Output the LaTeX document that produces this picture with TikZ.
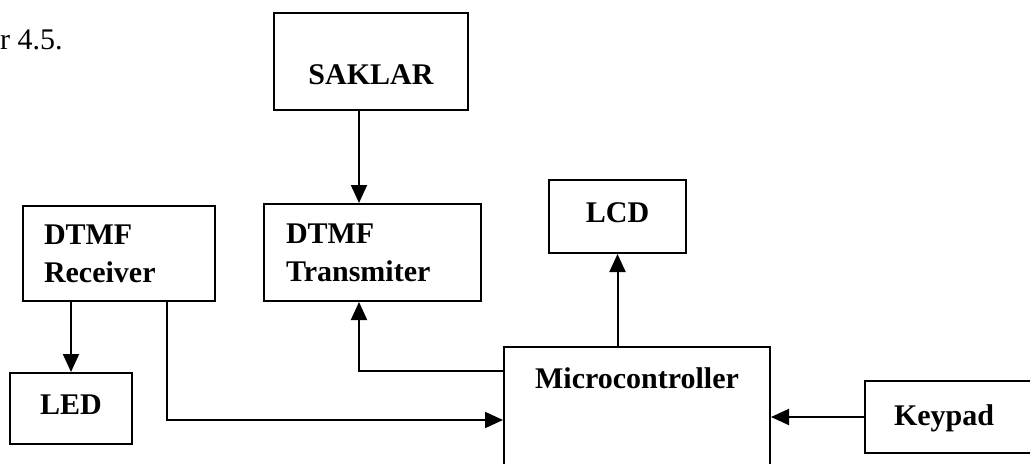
\documentclass[tikz,border=0pt]{standalone}
\usepackage{fontspec}
\setmainfont{Liberation Serif}
\usetikzlibrary{arrows.meta,calc}
\begin{document}
\begin{tikzpicture}[x=1pt,y=-1pt,
  box/.style={draw, line width=2pt, inner ysep=0pt, anchor=north west,
    font=\fontsize{30}{38}\selectfont\bfseries},
  arr/.style={line width=2pt, -{Triangle[length=18pt,width=16pt]}}]
\clip (0,0) rectangle (1030,463);
\node[anchor=base west, inner sep=0pt, font=\fontsize{30}{34}\selectfont] (cap) at (0,49) {r 4.5.};
\node[box, minimum width=194pt, text height=71pt, text depth=26pt] (sak) at (273,12) {SAKLAR};
\node[box, inner xsep=21pt, text width=150pt, align=left, minimum height=95pt] (rec) at (22,205) {DTMF\\Receiver};
\node[box, inner xsep=22pt, text width=173pt, align=left, minimum height=97pt] (tx) at (263,203) {DTMF\\Transmiter};
\node[box, minimum width=137pt, text height=42pt, text depth=31pt] (lcd) at (548,179) {LCD};
\node[box, minimum width=122pt, text height=41pt, text depth=30pt] (led) at (9,372) {LED};
\node[box, minimum width=266pt, text height=41pt, text depth=200pt] (mc) at (503,346) {Microcontroller};
\node[box, inner xsep=29pt, text width=200pt, align=left, text height=44pt, text depth=28pt] (kp) at (864,380) {Keypad};
\coordinate (tin) at ([xshift=96pt]tx.north west);
\coordinate (tout) at ([xshift=96pt]tx.south west);
\coordinate (rout) at ([xshift=49pt]rec.south west);
\coordinate (rout2) at ([xshift=145pt]rec.south west);
\draw[arr] (sak.south -| tin) -- (tin);
\draw[arr] (rout) -- (led.north -| rout);
\draw[arr] (rout2) |- ($(mc.north west)+(0,74)$);
\draw[arr] ($(mc.north west)+(0,25)$) -| (tout);
\draw[arr] (mc.north -| lcd.south) -- (lcd.south);
\draw[arr] (kp.west) -- (mc.east |- kp.west);
\end{tikzpicture}
\end{document}
